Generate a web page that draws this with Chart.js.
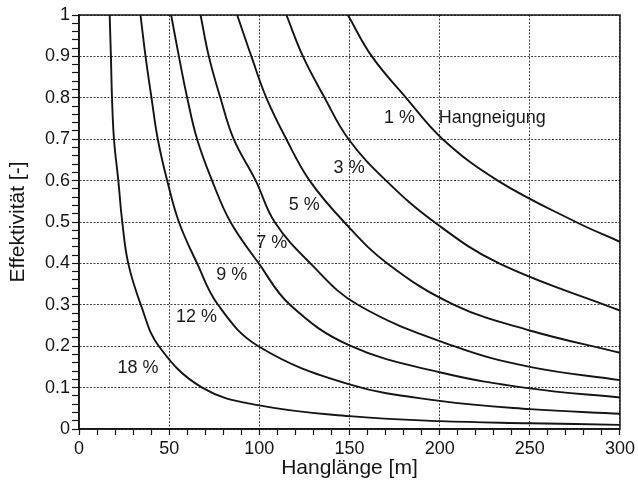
<!DOCTYPE html>
<html>
<head>
<meta charset="utf-8">
<script src="https://cdn.jsdelivr.net/npm/chart.js@4.4.1/dist/chart.umd.min.js"></script>
<style>
  html, body { margin: 0; padding: 0; background: #ffffff; }
  #wrap { width: 638px; height: 481px; position: relative; }
</style>
</head>
<body>
<div id="wrap"><canvas id="c"></canvas></div>
<script>
// ---- Data (Hanglänge [m] vs. Effektivität [-]) ----
const seriesNames = ['1 %', '3 %', '5 %', '7 %', '9 %', '12 %', '18 %'];

const len1  = [149.1, 162.4, 181.4, 201.7, 232.2, 275.6, 300];
const eff1  = [1, 0.9, 0.8, 0.7, 0.6, 0.5, 0.452];

const len3  = [115.0, 124.2, 136.2, 149.5, 170.3, 197, 233, 300];
const eff3  = [1, 0.9, 0.8, 0.7, 0.6, 0.5, 0.4, 0.286];

const len5  = [87.7, 95.6, 103.9, 115.0, 127.9, 147, 171, 208, 250, 300];
const eff5  = [1, 0.9, 0.8, 0.7, 0.6, 0.5, 0.4, 0.3, 0.238, 0.184];

const len7  = [67.4, 72.0, 78.4, 85.8, 98, 108.5, 128.3, 154.6, 208, 250, 300];
const eff7  = [1, 0.9, 0.8, 0.7, 0.6, 0.5, 0.4, 0.3, 0.2, 0.150, 0.118];

const len9  = [51.1, 55.4, 60.0, 65.5, 73.8, 84.0, 99.7, 117, 150, 200, 250, 300];
const eff9  = [1, 0.9, 0.8, 0.7, 0.6, 0.5, 0.4, 0.3, 0.202, 0.137, 0.098, 0.076];

const len12 = [34.1, 36.9, 40.2, 43.7, 48.9, 55.4, 65.5, 77.1, 99.5, 150, 200, 250, 300];
const eff12 = [1, 0.9, 0.8, 0.7, 0.6, 0.5, 0.4, 0.3, 0.2, 0.108, 0.068, 0.048, 0.037];

const len18 = [17.0, 17.7, 18.3, 19.4, 21.8, 24.0, 27.3, 34.3, 44.3, 68.3, 100, 150, 200, 250, 300];
const eff18 = [1, 0.9, 0.8, 0.7, 0.6, 0.5, 0.4, 0.3, 0.2, 0.1, 0.057, 0.031, 0.019, 0.014, 0.01];

// Axis ranges / ticks
const xMin = 0, xMax = 300, xMinorStep = 10, xMajorStep = 50;
const yMin = 0, yMax = 1, yMinorStep = 0.02;

// Curve annotations (text, and where they sit in data units)
const noteText = ['1 %', 'Hangneigung', '3 %', '5 %', '7 %', '9 %', '12 %', '18 %'];
const noteX    = [177.7, 229.2, 149.8, 124.9, 106.9, 84.7, 65.1, 32.7];
const noteY    = [0.75, 0.75, 0.63, 0.541, 0.4485, 0.372, 0.271, 0.1466];

// ---- Chart ----
const FONT = '"Liberation Sans", Arial, Helvetica, sans-serif';
Chart.defaults.font.family = FONT;
Chart.defaults.color = '#151515';

const lens = [len1, len3, len5, len7, len9, len12, len18];
const effs = [eff1, eff3, eff5, eff7, eff9, eff12, eff18];

const datasets = seriesNames.map((name, i) => ({
  label: name,
  data: lens[i].map((x, j) => ({ x: x, y: effs[i][j] })),
  borderColor: '#141414',
  borderWidth: 1.9,
  pointRadius: 0,
  fill: false,
  tension: 0.4,
  showLine: true
}));

const frame = {
  id: 'frame',
  afterDraw(chart) {
    const { ctx, chartArea: a } = chart;
    ctx.save();
    ctx.strokeStyle = '#151515';
    ctx.lineWidth = 1.5;
    ctx.strokeRect(a.left, a.top, a.right - a.left, a.bottom - a.top);
    ctx.restore();
  }
};

const notes = {
  id: 'notes',
  afterDatasetsDraw(chart) {
    const { ctx, scales } = chart;
    ctx.save();
    ctx.font = '18px ' + FONT;
    ctx.fillStyle = '#1a1a1a';
    ctx.textAlign = 'center';
    ctx.textBaseline = 'middle';
    noteText.forEach((t, i) => {
      ctx.fillText(t, scales.x.getPixelForValue(noteX[i]), scales.y.getPixelForValue(noteY[i]));
    });
    ctx.restore();
  }
};

new Chart(document.getElementById('c'), {
  type: 'line',
  data: { datasets },
  options: {
    responsive: true,
    maintainAspectRatio: false,
    animation: false,
    devicePixelRatio: 1,
    layout: { padding: { left: 0, right: 17, top: 15, bottom: 0 } },
    plugins: { legend: { display: false }, tooltip: { enabled: false } },
    scales: {
      x: {
        type: 'linear',
        position: 'bottom',
        min: xMin, max: xMax,
        ticks: {
          stepSize: xMinorStep,
          autoSkip: false,
          maxRotation: 0, minRotation: 0,
          padding: 3,
          color: '#151515',
          font: { size: 18 },
          callback: v => (Math.round(v) % xMajorStep === 0 ? String(Math.round(v)) : '')
        },
        grid: {
          color: c => (c.tick && Math.round(c.tick.value) % xMajorStep === 0) ? '#404040' : 'rgba(0,0,0,0)',
          lineWidth: 1,
          tickColor: '#151515',
          tickLength: 6,
          tickWidth: 1.2
        },
        border: { display: true, color: '#151515', width: 1.5, dash: [2, 1.5] },
        title: { display: true, text: 'Hanglänge [m]', color: '#151515', font: { size: 21 }, padding: { top: 0, bottom: 0 } },
        afterFit: s => { s.height = 52; }
      },
      y: {
        type: 'linear',
        min: yMin, max: yMax,
        ticks: {
          stepSize: yMinorStep,
          autoSkip: false,
          padding: 2,
          color: '#151515',
          font: { size: 18 },
          callback: v => (Math.round(v * 100) % 10 === 0 ? String(Math.round(v * 10) / 10) : '')
        },
        grid: {
          color: c => (c.tick && Math.round(c.tick.value * 100) % 10 === 0) ? '#404040' : 'rgba(0,0,0,0)',
          lineWidth: 1,
          tickColor: '#151515',
          tickLength: 7,
          tickWidth: 1.2
        },
        border: { display: true, color: '#151515', width: 1.5, dash: [2, 1.5] },
        title: { display: true, text: 'Effektivität [-]', color: '#151515', font: { size: 21 }, padding: { top: 6, bottom: 0 } },
        afterFit: s => { s.width = 79; }
      }
    }
  },
  plugins: [frame, notes]
});
</script>
</body>
</html>
